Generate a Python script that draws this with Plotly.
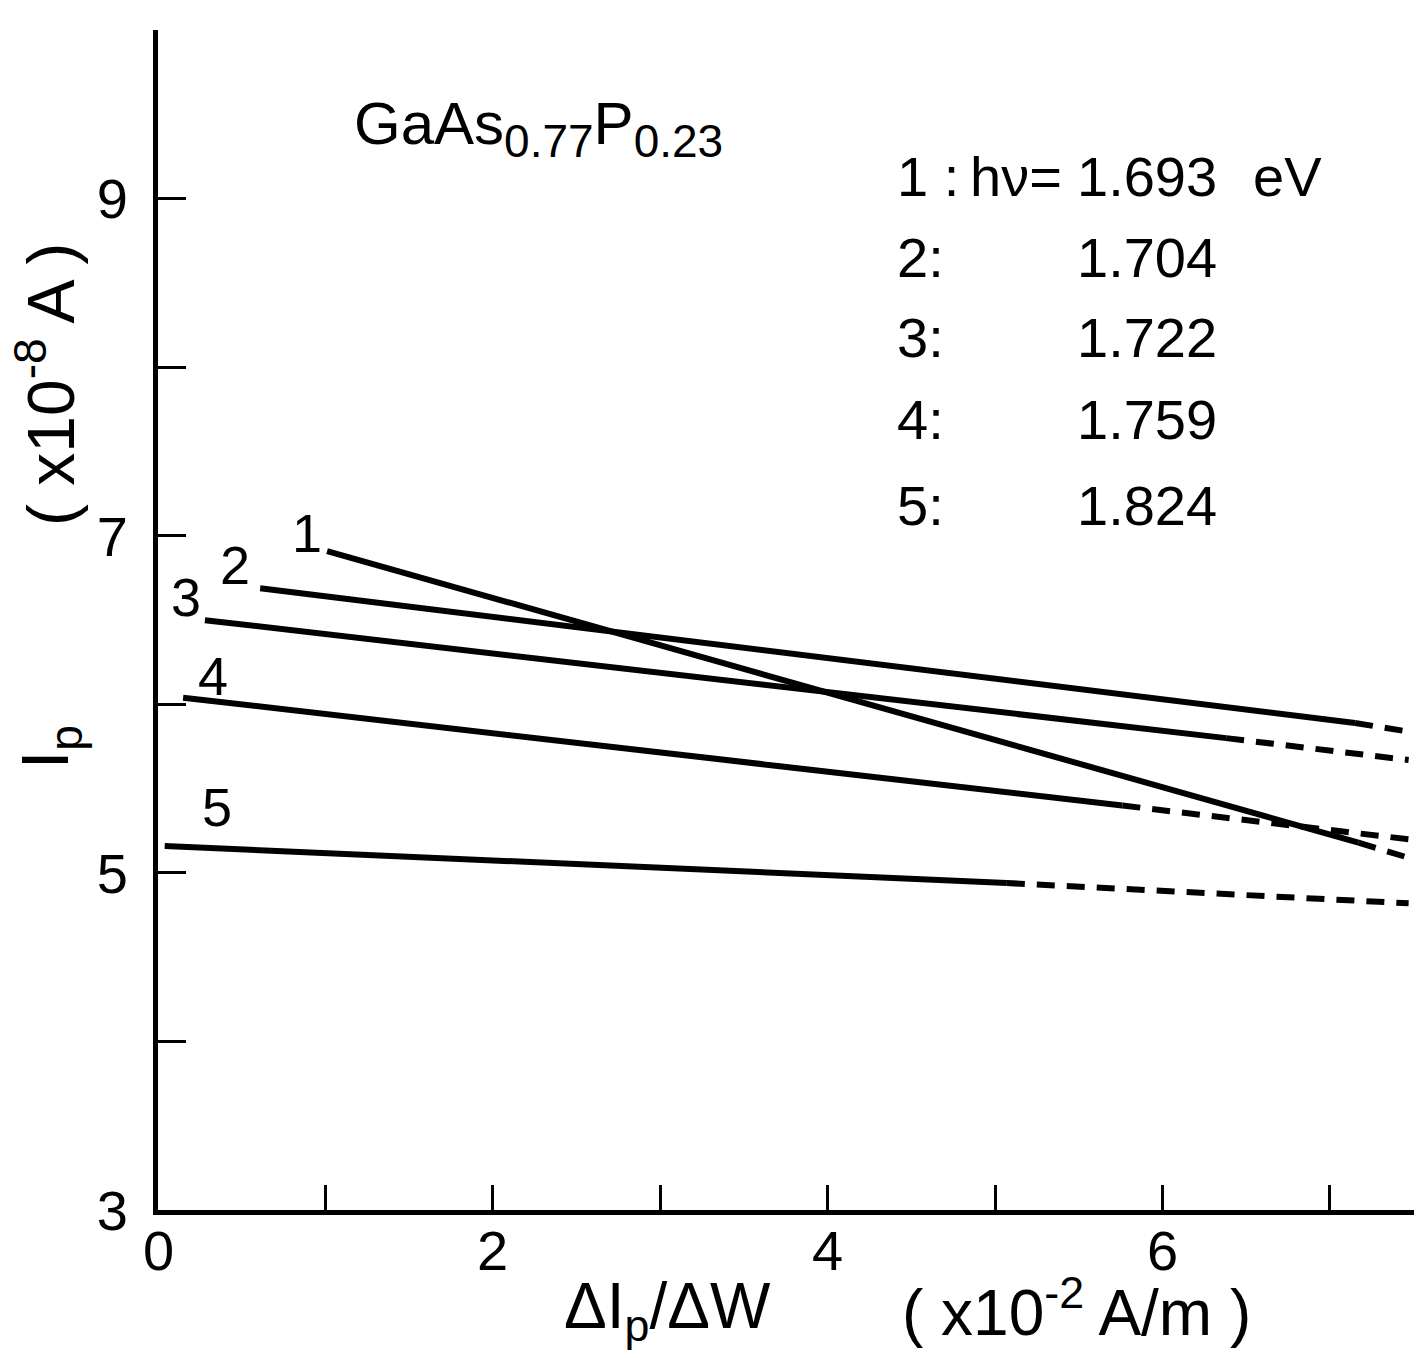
import plotly.graph_objects as go

# ---- data (in axis units) ----
curve_ids = ["1", "2", "3", "4", "5"]
photon_energy = ["1.693", "1.704", "1.722", "1.759", "1.824"]
x_start = [1.01, 0.61, 0.28, 0.15, 0.04]
y_start = [6.91, 6.69, 6.50, 6.04, 5.16]
x_solid_end = [7.17, 7.15, 6.38, 5.76, 5.07]
y_solid_end = [5.18, 5.89, 5.80, 5.40, 4.94]
x_dash_end = [7.47, 7.46, 7.47, 7.47, 7.47]
y_dash_end = [5.09, 5.84, 5.67, 5.20, 4.82]

x_tick_vals = [0, 1, 2, 3, 4, 5, 6, 7, 7.5]
x_label_vals = [0, 2, 4, 6]
x_label_text = ["0", "2", "4", "6"]
y_tick_vals = [3, 4, 5, 6, 7, 8, 9, 10]
y_tick_text = ["3", "", "5", "", "7", "", "9", ""]

FONT = "Liberation Sans, Arial, sans-serif"
W, H = 1422, 1358
L, T, PW, PH = 158, 30, 1256, 1180


def px(x):
    return (x - L) / PW


def py(y):
    return (T + PH - y) / PH


fig = go.Figure()
for i in range(len(curve_ids)):
    fig.add_trace(go.Scatter(
        x=[x_start[i], x_solid_end[i]], y=[y_start[i], y_solid_end[i]],
        mode="lines", line=dict(color="black", width=6),
        showlegend=False, hoverinfo="skip"))
    fig.add_trace(go.Scatter(
        x=[x_solid_end[i], x_dash_end[i]], y=[y_solid_end[i], y_dash_end[i]],
        mode="lines", line=dict(color="black", width=6, dash="18px,12px"),
        showlegend=False, hoverinfo="skip"))

ann = []


def text(x, y, s, size, xref="x", yref="y", xanchor="center", angle=0):
    ann.append(dict(x=x, y=y, xref=xref, yref=yref, text=s, showarrow=False,
                    xanchor=xanchor, yanchor="middle", textangle=angle,
                    font=dict(size=size, color="black", family=FONT)))


# curve number labels
label_pos = [(0.89, 7.02), (0.46, 6.83), (0.17, 6.64), (0.33, 6.17), (0.35, 5.39)]
for cid, (lx, ly) in zip(curve_ids, label_pos):
    text(lx, ly, cid, 54)

# material label
text(1.16, 9.42,
     "GaAs<sub><span style='font-size:46px'>0.77</span></sub>"
     "P<sub><span style='font-size:46px'>0.23</span></sub>",
     60, xanchor="left")

# legend block
row_y = [9.13, 8.65, 8.18, 7.69, 7.18]
for k, (cid, e, ry) in enumerate(zip(curve_ids, photon_energy, row_y)):
    text(4.40, ry, (cid + " :") if k == 0 else (cid + ":"), 56, xanchor="left")
    text(5.48, ry, e, 56, xanchor="left")
text(4.84, row_y[0], "hν=", 56, xanchor="left")
text(6.53, row_y[0], "eV", 56, xanchor="left")

# x tick labels
for v, t in zip(x_label_vals, x_label_text):
    text(v, py(1250), t, 56, yref="paper")

# axis titles
text(px(667), py(1310), "ΔI<sub>p</sub>/ΔW", 64, xref="paper", yref="paper")
text(px(1076), py(1308), "( x10<sup>-2</sup> A/m )", 64, xref="paper", yref="paper")
text(px(50), py(747), "I<sub>p</sub>", 66, xref="paper", yref="paper", angle=-90)
text(px(46), py(385), "( x10<sup>-8</sup> A )", 66, xref="paper", yref="paper", angle=-90)

fig.update_layout(
    width=W, height=H,
    margin=dict(l=L, r=W - L - PW, t=T, b=H - T - PH),
    paper_bgcolor="white", plot_bgcolor="white",
    annotations=ann,
    xaxis=dict(range=[0, 7.502], showgrid=False, zeroline=False,
               showline=True, linecolor="black", linewidth=5,
               ticks="inside", ticklen=25, tickwidth=3, tickcolor="black",
               tickvals=x_tick_vals, ticktext=[""] * len(x_tick_vals),
               tickfont=dict(size=56, color="black", family=FONT)),
    yaxis=dict(range=[3, 10.002], showgrid=False, zeroline=False,
               showline=True, linecolor="black", linewidth=5,
               ticks="inside", ticklen=28, tickwidth=3, tickcolor="black",
               tickvals=y_tick_vals, ticktext=y_tick_text,
               ticklabelstandoff=14,
               tickfont=dict(size=56, color="black", family=FONT)),
)

fig.write_html("out.html")
